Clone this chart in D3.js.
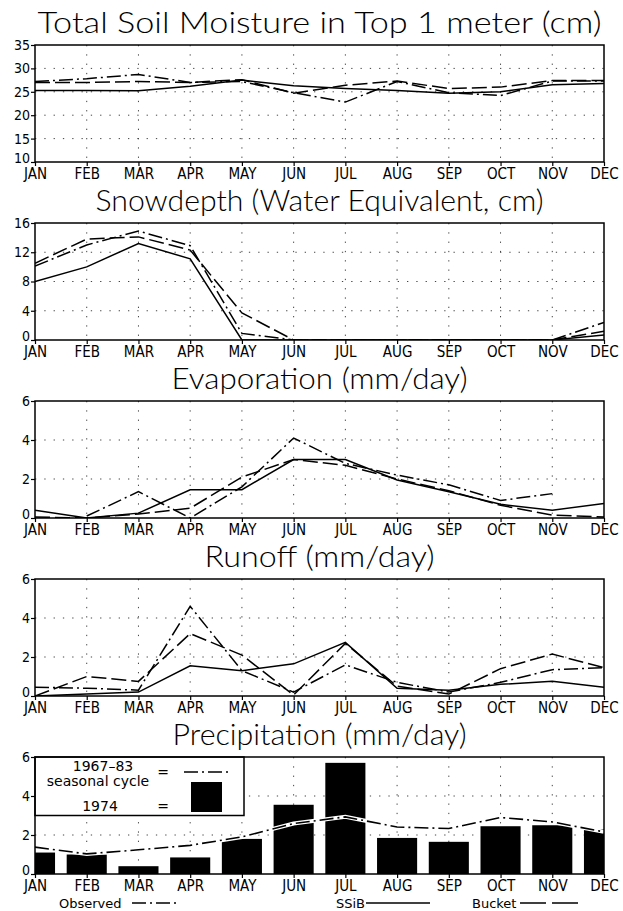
<!DOCTYPE html>
<html>
<head>
<meta charset="utf-8">
<script src="https://cdn.jsdelivr.net/npm/d3@7"></script>
<style>
  body { margin: 0; background: #fff; }
  svg { display: block; }
  .tick-label { font-family: "Liberation Sans Narrow", "DejaVu Sans Condensed", sans-serif; font-size: 15px; fill: #000; }
  .title { font-family: "Lato", "DejaVu Sans", sans-serif; font-weight: 300; font-size: 29px; fill: #000; }
  .legend { font-family: "DejaVu Sans", sans-serif; font-size: 14px; fill: #000; }
</style>
</head>
<body>
<div id="chart"></div>
<script>
let months = ["JAN", "FEB", "MAR", "APR", "MAY", "JUN", "JUL", "AUG", "SEP", "OCT", "NOV", "DEC"];

// soil moisture, top 1 m (cm)
let soilObserved = [27.2, 27.8, 28.7, 27.0, 27.2, 24.8, 22.8, 27.2, 24.8, 24.2, 27.3, 27.3];
let soilSSiB     = [25.3, 25.3, 25.2, 26.2, 27.5, 26.3, 25.7, 25.3, 24.7, 25.0, 26.5, 26.8];
let soilBucket   = [27.0, 27.0, 27.2, 27.0, 27.6, 24.7, 26.4, 27.3, 25.7, 26.0, 27.4, 27.4];

// snowdepth (cm water equivalent)
let snowObserved = [10.1, 13.0, 14.9, 12.9, 0.9, 0, 0, 0, 0, 0, 0, 2.4];
let snowSSiB     = [8.0, 10.0, 13.2, 11.1, 0, 0, 0, 0, 0, 0, 0, 0.7];
let snowBucket   = [10.5, 13.8, 14.1, 12.3, 3.7, 0, 0, 0, 0, 0, 0, 1.2];

// evaporation (mm/day)
let evapObserved = [null, 0.1, 1.35, 0.0, 1.6, 4.1, 2.8, 2.2, 1.7, 0.9, 1.25, null];
let evapSSiB     = [0.4, 0.0, 0.25, 1.45, 1.45, 3.0, 3.0, 1.95, 1.35, 0.7, 0.4, 0.75];
let evapBucket   = [0.05, 0.0, 0.2, 0.5, 2.1, 3.0, 2.7, 2.0, 1.4, 0.65, 0.15, 0.05];

// runoff (mm/day)
let runoffObserved = [0.45, 0.4, 0.3, 4.6, 1.3, 0.2, 1.6, 0.7, 0.2, 0.7, 1.35, 1.45];
let runoffSSiB     = [0.0, 0.1, 0.2, 1.55, 1.3, 1.65, 2.75, 0.4, 0.3, 0.6, 0.75, 0.45];
let runoffBucket   = [0.0, 1.0, 0.75, 3.2, 2.1, 0.05, 2.7, 0.5, 0.1, 1.4, 2.15, 1.45];

// precipitation (mm/day)
let precip1974     = [1.1, 1.0, 0.4, 0.85, 1.8, 3.55, 5.7, 1.85, 1.65, 2.45, 2.5, 2.3];
let precipSeasonal = [1.38, 1.03, 1.24, 1.47, 1.9, 2.59, 2.93, 2.41, 2.33, 2.9, 2.67, 2.16];

let titles = [
    "Total Soil Moisture in Top 1 meter (cm)",
    "Snowdepth (Water Equivalent, cm)",
    "Evaporation (mm/day)",
    "Runoff (mm/day)",
    "Precipitation (mm/day)"
];
let yTicks = [
    [10, 15, 20, 25, 30, 35],
    [0, 4, 8, 12, 16],
    [0, 2, 4, 6],
    [0, 2, 4, 6],
    [0, 2, 4, 6]
];
let legendLabels = ["Observed", "SSiB", "Bucket"];

let width = 623,
    height = 911;

let left = 35, right = 604, panelH = 117;
let dashObs = "14,4,2,4", dashBucket = "15,5";

let svg = d3.select("#chart")
    .append("svg")
    .attr("width", width)
    .attr("height", height);

let x = d3.scalePoint().domain(months).range([left, right]);

let panels = [
    {top: 45, titleLen: 564, series: [soilSSiB, soilBucket, soilObserved]},
    {top: 223, titleLen: 448, series: [snowSSiB, snowBucket, snowObserved]},
    {top: 401, titleLen: 296, series: [evapSSiB, evapBucket, evapObserved]},
    {top: 579, titleLen: 230, series: [runoffSSiB, runoffBucket, runoffObserved]},
    {top: 757, titleLen: 294, series: []}
];
let dashes = [null, dashBucket, dashObs];

panels.forEach(function(p, i) {
    let ticks = yTicks[i];
    let y = d3.scaleLinear()
        .domain([ticks[0], ticks[ticks.length - 1]])
        .range([p.top + panelH, p.top]);

    let g = svg.append("g");

    g.append("clipPath").attr("id", "clip" + i)
        .append("rect")
        .attr("x", left).attr("y", p.top)
        .attr("width", right - left).attr("height", panelH);

    // title
    g.append("text")
        .attr("class", "title")
        .attr("x", (left + right) / 2)
        .attr("y", p.top - 12)
        .attr("text-anchor", "middle")
        .attr("textLength", p.titleLen)
        .attr("lengthAdjust", "spacingAndGlyphs")
        .text(titles[i]);

    // dotted grid
    g.selectAll(".hgrid")
        .data(ticks.slice(1, -1))
        .enter()
        .append("line")
        .attr("x1", left).attr("x2", right)
        .attr("y1", function(d) { return y(d); })
        .attr("y2", function(d) { return y(d); })
        .style("stroke", "#444")
        .style("stroke-width", 1)
        .style("stroke-dasharray", "1.3,8");

    g.selectAll(".vgrid")
        .data(months.slice(1, -1))
        .enter()
        .append("line")
        .attr("x1", function(d) { return x(d); })
        .attr("x2", function(d) { return x(d); })
        .attr("y1", p.top).attr("y2", p.top + panelH)
        .style("stroke", "#444")
        .style("stroke-width", 1)
        .style("stroke-dasharray", "1.3,8");

    let line = d3.line()
        .defined(function(d) { return d != null; })
        .x(function(d, j) { return x(months[j]); })
        .y(function(d) { return y(d); });

    let plot = g.append("g").attr("clip-path", "url(#clip" + i + ")");

    if (i == 4) {
        // 1974 bars
        let bw = x.step() * 0.775;
        plot.selectAll(".bar")
            .data(precip1974)
            .enter()
            .append("rect")
            .attr("x", function(d, j) { return x(months[j]) - bw / 2; })
            .attr("y", function(d) { return y(d); })
            .attr("width", bw)
            .attr("height", function(d) { return y(0) - y(d); })
            .style("fill", "#000");

        // seasonal cycle with white halo
        plot.append("path")
            .attr("d", line(precipSeasonal))
            .style("fill", "none")
            .style("stroke", "#fff")
            .style("stroke-width", 4);
        plot.append("path")
            .attr("d", line(precipSeasonal))
            .style("fill", "none")
            .style("stroke", "#000")
            .style("stroke-width", 1.6)
            .style("stroke-dasharray", dashObs);

        // legend box
        let lg = g.append("g");
        lg.append("rect")
            .attr("x", left).attr("y", p.top)
            .attr("width", 209).attr("height", y(3) - p.top)
            .style("fill", "#fff")
            .style("stroke", "#000")
            .style("stroke-width", 1.5);
        lg.append("text").attr("class", "legend")
            .attr("x", 103).attr("y", p.top + 14)
            .attr("text-anchor", "middle").text("1967\u201383");
        lg.append("text").attr("class", "legend")
            .attr("x", 98).attr("y", p.top + 29)
            .attr("text-anchor", "middle").text("seasonal cycle");
        lg.append("text").attr("class", "legend")
            .attr("x", 163).attr("y", p.top + 20)
            .attr("text-anchor", "middle").text("=");
        lg.append("line")
            .attr("x1", 184).attr("x2", 228)
            .attr("y1", p.top + 15).attr("y2", p.top + 15)
            .style("stroke", "#000")
            .style("stroke-width", 1.6)
            .style("stroke-dasharray", dashObs);
        lg.append("text").attr("class", "legend")
            .attr("x", 100).attr("y", p.top + 54)
            .attr("text-anchor", "middle").text("1974");
        lg.append("text").attr("class", "legend")
            .attr("x", 163).attr("y", p.top + 54)
            .attr("text-anchor", "middle").text("=");
        lg.append("rect")
            .attr("x", 191).attr("y", p.top + 25)
            .attr("width", 31).attr("height", 30)
            .style("fill", "#000");
    } else {
        p.series.forEach(function(s, k) {
            plot.append("path")
                .attr("d", line(s))
                .style("fill", "none")
                .style("stroke", "#000")
                .style("stroke-width", 1.5)
                .style("stroke-dasharray", dashes[k]);
        });
    }

    // frame
    g.append("rect")
        .attr("x", left).attr("y", p.top)
        .attr("width", right - left).attr("height", panelH)
        .style("fill", "none")
        .style("stroke", "#000")
        .style("stroke-width", 1.5);

    // axes
    let yAxis = g.append("g")
        .attr("transform", "translate(" + left + ",0)")
        .call(d3.axisLeft(y).tickValues(ticks).tickFormat(d3.format("d")).tickSize(4).tickSizeOuter(0));
    let xAxis = g.append("g")
        .attr("transform", "translate(0," + (p.top + panelH) + ")")
        .call(d3.axisBottom(x).tickSize(4).tickSizeOuter(0));

    [yAxis, xAxis].forEach(function(a) {
        a.select(".domain").remove();
        a.selectAll(".tick line").style("stroke", "#000").style("stroke-width", 1.2);
        a.selectAll("text").attr("class", "tick-label").attr("fill", "#000");
        a.attr("font-family", null).attr("font-size", null);
    });
    yAxis.selectAll("text")
        .attr("x", -5)
        .style("font-size", "14px")
        .attr("dy", function(d) { return d == ticks[0] ? "0em" : "0.32em"; });
    xAxis.selectAll("text").attr("y", 6).attr("dy", "0.71em");
});

// bottom legend
let ly = 903;
let items = [
    {x: 59, lx: 132, len: 44, dash: dashObs},
    {x: 336, lx: 366, len: 64, dash: null},
    {x: 472, lx: 520, len: 58, dash: "26,6"}
];
items.forEach(function(it, k) {
    svg.append("text")
        .attr("class", "legend")
        .attr("x", it.x).attr("y", ly + 5)
        .style("font-size", "13px")
        .text(legendLabels[k]);
    svg.append("line")
        .attr("x1", it.lx).attr("x2", it.lx + it.len)
        .attr("y1", ly).attr("y2", ly)
        .style("stroke", "#000")
        .style("stroke-width", 1.6)
        .style("stroke-dasharray", it.dash);
});
</script>
</body>
</html>
